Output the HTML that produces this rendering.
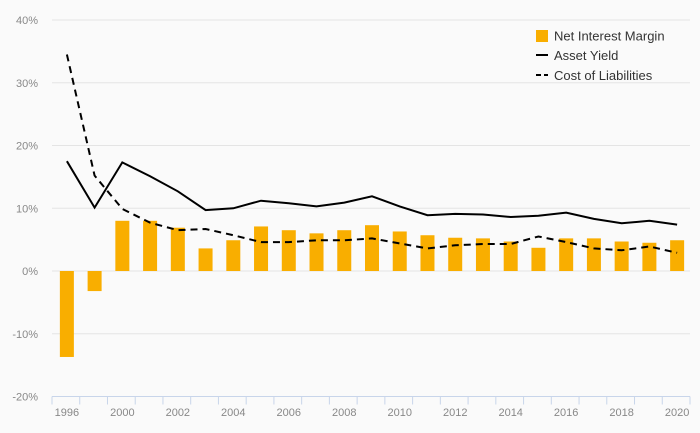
<!DOCTYPE html>
<html><head><meta charset="utf-8"><style>
html,body{margin:0;padding:0;background:#fafafa;}
svg{display:block;font-family:"Liberation Sans",sans-serif;}
</style></head><body>
<svg id="chart" width="700" height="433">
<rect width="700" height="433" fill="#fafafa"/>
<g id="grid"></g><g id="bars"></g><g id="lines"></g><g id="axes"></g>
<g>
<rect x="536" y="30" width="12" height="12" fill="#f9ae00"/>
<text x="554" y="40.5" font-size="13" fill="#333">Net Interest Margin</text>
<line x1="536" y1="55" x2="548" y2="55" stroke="#000" stroke-width="2"/>
<text x="554" y="60" font-size="13" fill="#333">Asset Yield</text>
<line x1="536" y1="75" x2="548" y2="75" stroke="#000" stroke-width="2" stroke-dasharray="5,3"/>
<text x="554" y="80" font-size="13" fill="#333">Cost of Liabilities</text>
</g>
</svg>
<script>
const categories=["1996","1998","2000","2001","2002","2003","2004","2005","2006","2007","2008","2009","2010","2011","2012","2013","2014","2015","2016","2017","2018","2019","2020"];
const nim=[-13.7,-3.2,8.0,8.0,6.9,3.6,4.9,7.1,6.5,6.0,6.5,7.3,6.3,5.7,5.3,5.2,4.7,3.7,5.2,5.2,4.7,4.5,4.9];
const assetYield=[17.5,10.1,17.3,15.1,12.7,9.7,10.0,11.2,10.8,10.3,10.9,11.9,10.3,8.9,9.1,9.0,8.6,8.8,9.3,8.3,7.6,8.0,7.4];
const costOfLiabilities=[34.5,15.2,9.9,7.7,6.5,6.7,5.7,4.6,4.6,4.9,4.9,5.2,4.4,3.6,4.1,4.3,4.3,5.5,4.6,3.6,3.3,3.9,2.9];
const yTicks=[40,30,20,10,0,-10,-20];
const xLabels=["1996","","2000","","2002","","2004","","2006","","2008","","2010","","2012","","2014","","2016","","2018","","2020"];
const NS="http://www.w3.org/2000/svg";
const X0=52,X1=690,Y40=20,Ym20=396.5;
const band=(X1-X0)/categories.length;
const xc=i=>X0+band*(i+0.5)+1;
const y=v=>Y40+(40-v)*(Ym20-Y40)/60;
function mk(p,t,a){const e=document.createElementNS(NS,t);for(const k in a)e.setAttribute(k,a[k]);p.appendChild(e);return e;}
const grid=document.getElementById('grid'),bars=document.getElementById('bars'),lines=document.getElementById('lines'),axes=document.getElementById('axes');
yTicks.forEach(t=>{
  if(t!==-20){const l=mk(grid,'line',{x1:X0,x2:X1,y1:y(t),y2:y(t),stroke:'#e4e4e4','stroke-width':1});
  
  }
  const tx=mk(axes,'text',{x:38,y:y(t)+4,'text-anchor':'end','font-size':11,fill:'#888'});
  tx.textContent=t+'%';
  
  
});
nim.forEach((v,i)=>{
  const r=mk(bars,'rect',{x:xc(i)-7,y:Math.min(y(v),y(0)),width:14,height:Math.abs(y(v)-y(0)),fill:'#f9ae00'});
  
  
});
function path(vals){return vals.map((v,i)=>(i?'L':'M')+xc(i).toFixed(1)+' '+y(v).toFixed(1)).join(' ');}
const a=mk(lines,'path',{d:path(assetYield),fill:'none',stroke:'#000','stroke-width':2,'stroke-linejoin':'miter'});


const c=mk(lines,'path',{d:path(costOfLiabilities),fill:'none',stroke:'#000','stroke-width':2,'stroke-dasharray':'7,5'});


const ax=mk(axes,'line',{x1:X0,x2:X1,y1:Ym20,y2:Ym20,stroke:'#c8d5ea','stroke-width':1});


for(let i=0;i<=categories.length;i++){
  const xx=X0+band*i;
  const tk=mk(axes,'line',{x1:xx,x2:xx,y1:Ym20,y2:Ym20+8,stroke:'#c8d5ea','stroke-width':1});
  
  
}
xLabels.forEach((s,i)=>{
  if(!s)return;
  const t=mk(axes,'text',{x:xc(i),y:416,'text-anchor':'middle','font-size':11,fill:'#888'});
  t.textContent=s;
  
  
});
</script>
</body></html>
